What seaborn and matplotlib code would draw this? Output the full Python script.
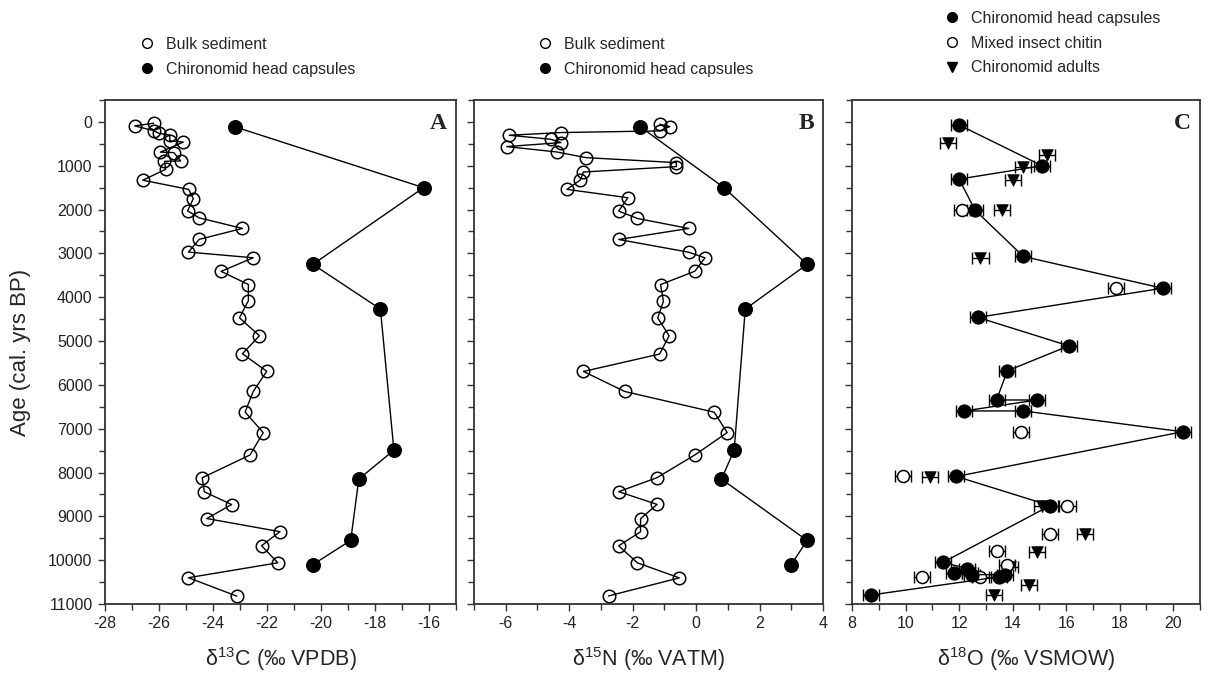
import numpy as np
import pandas as pd
import matplotlib
matplotlib.use("Agg")
import matplotlib.pyplot as plt
import seaborn as sns
from matplotlib.lines import Line2D
from matplotlib.ticker import MultipleLocator

# ---------------- data ----------------
# Panel A: d13C
ageA_bulk = [30, 90, 200, 260, 300, 430, 460, 690, 700, 890, 900, 1080, 1330, 1540, 1750,
             2030, 2190, 2430, 2680, 2970, 3100, 3410, 3710, 4080, 4470, 4880, 5290, 5690,
             6150, 6620, 7090, 7600, 8120, 8440, 8730, 9050, 9350, 9670, 10060, 10400, 10820]
d13C_bulk = [-26.2, -26.9, -26.2, -26.0, -25.6, -25.6, -25.1, -25.95, -25.45, -25.2, -25.8,
             -25.75, -26.6, -24.9, -24.73, -24.94, -24.51, -22.91, -24.51, -24.91, -22.51,
             -23.70, -22.69, -22.69, -23.02, -22.28, -22.91, -22.01, -22.51, -22.81, -22.14,
             -22.63, -24.40, -24.32, -23.31, -24.23, -21.52, -22.20, -21.60, -24.91, -23.12]
age_hc = [110, 1500, 3250, 4270, 7490, 8150, 9550, 10100]
d13C_hc = [-23.2, -16.2, -20.3, -17.8, -17.3, -18.6, -18.9, -20.3]

# Panel B: d15N
ageB_bulk = [53, 106, 205, 243, 304, 396, 472, 563, 686, 815, 929, 1020, 1143, 1326, 1539,
             1730, 2035, 2203, 2431, 2683, 2973, 3102, 3407, 3712, 4093, 4474, 4878, 5297,
             5694, 6151, 6623, 7088, 7599, 8117, 8437, 8727, 9055, 9352, 9672, 10061, 10404, 10816]
d15N_bulk = [-1.15, -0.83, -1.15, -4.26, -5.89, -4.58, -4.26, -5.97, -4.39, -3.47, -0.62,
             -0.62, -3.55, -3.65, -4.07, -2.15, -2.44, -1.85, -0.23, -2.44, -0.23, 0.28,
             -0.04, -1.12, -1.03, -1.21, -0.85, -1.15, -3.55, -2.25, 0.57, 0.98, -0.04,
             -1.23, -2.44, -1.23, -1.75, -1.75, -2.44, -1.85, -0.53, -2.76]
d15N_hc = [-1.76, 0.88, 3.5, 1.55, 1.2, 0.8, 3.5, 3.0]

# Panel C: d18O
ageC_hc = [70, 1000, 1305, 2015, 3070, 3795, 4460, 5110, 5680, 6345, 6345, 6595, 6595,
           7070, 8090, 8755, 10050, 10190, 10300, 10330, 10330, 10380, 10795]
d18O_hc = [12.0, 15.1, 12.0, 12.6, 14.4, 19.6, 12.7, 16.1, 13.8, 13.4, 14.9, 12.2, 14.4,
           20.35, 11.9, 15.4, 11.4, 12.3, 11.8, 12.5, 13.7, 13.5, 8.7]
ageC_mix = [2015, 3795, 7070, 8090, 8755, 9405, 9800, 10100, 10390, 10390]
d18O_mix = [12.1, 17.85, 14.3, 9.9, 16.05, 15.4, 13.4, 13.8, 10.6, 12.8]
ageC_ad = [490, 755, 1025, 1330, 2015, 3100, 8105, 8755, 9405, 9810, 10160, 10300, 10570, 10800]
d18O_ad = [11.6, 15.3, 14.4, 14.0, 13.6, 12.8, 10.9, 15.1, 16.7, 14.9, 13.9, 12.4, 14.6, 13.3]
d18O_err = 0.3

# ---------------- style ----------------
sns.set_theme(style="ticks")
FONT = ['Liberation Sans', 'DejaVu Sans']
plt.rcParams['font.family'] = FONT
plt.rcParams['axes.unicode_minus'] = False
plt.rcParams['mathtext.fontset'] = 'custom'
plt.rcParams['mathtext.rm'] = 'Liberation Sans'
plt.rcParams['mathtext.it'] = 'Liberation Sans'

W, H = 1206, 676
fig = plt.figure(figsize=(W / 100, H / 100), dpi=100)
fig.patch.set_facecolor('white')


def add_axes(l, r, t=100, b=604):
    return fig.add_axes([l / W, 1 - b / H, (r - l) / W, (b - t) / H])


axA = add_axes(105, 456)
axB = add_axes(474, 823)
axC = add_axes(852, 1200)

open_kw = dict(marker='o', markersize=9, markerfacecolor='none', markeredgecolor='black',
               markeredgewidth=1.1, color='black', linewidth=1.0)
fill_kw = dict(marker='o', markersize=10, markerfacecolor='black', markeredgecolor='black',
               color='black', linewidth=1.0)

# Panel A
sns.lineplot(data=pd.DataFrame({'v': d13C_bulk, 'age': ageA_bulk}), x='v', y='age',
             sort=False, estimator=None, legend=False, ax=axA, **open_kw)
sns.lineplot(data=pd.DataFrame({'v': d13C_hc, 'age': age_hc}), x='v', y='age',
             sort=False, estimator=None, legend=False, ax=axA, **fill_kw)

# Panel B
sns.lineplot(data=pd.DataFrame({'v': d15N_bulk, 'age': ageB_bulk}), x='v', y='age',
             sort=False, estimator=None, legend=False, ax=axB, **open_kw)
sns.lineplot(data=pd.DataFrame({'v': d15N_hc, 'age': age_hc}), x='v', y='age',
             sort=False, estimator=None, legend=False, ax=axB, **fill_kw)

# Panel C
err_kw = dict(fmt='none', ecolor='black', elinewidth=1.0, capsize=4, capthick=1.0, zorder=2)
axC.errorbar(d18O_ad, ageC_ad, xerr=d18O_err, **err_kw)
axC.errorbar(d18O_mix, ageC_mix, xerr=d18O_err, **err_kw)
axC.errorbar(d18O_hc, ageC_hc, xerr=d18O_err, **err_kw)
sns.scatterplot(x=d18O_ad, y=ageC_ad, marker='v', s=70, color='black', edgecolor='black',
                linewidth=0.5, ax=axC, zorder=3, legend=False)
sns.scatterplot(x=d18O_mix, y=ageC_mix, marker='o', s=75, color='white', edgecolor='black',
                linewidth=1.1, ax=axC, zorder=3, legend=False)
sns.lineplot(x=d18O_hc, y=ageC_hc, sort=False, estimator=None, legend=False, ax=axC,
             marker='o', markersize=9.5, markerfacecolor='black', markeredgecolor='black',
             color='black', linewidth=1.0, zorder=4)

# ---------------- axes formatting ----------------
xlims = {axA: (-28, -15), axB: (-7, 4), axC: (8, 21)}
for ax in (axA, axB, axC):
    ax.set_ylim(11000, -500)
    ax.set_xlim(*xlims[ax])
    ax.yaxis.set_major_locator(MultipleLocator(1000))
    ax.yaxis.set_minor_locator(MultipleLocator(500))
    ax.xaxis.set_major_locator(MultipleLocator(2))
    ax.xaxis.set_minor_locator(MultipleLocator(1))
    ax.tick_params(which='both', direction='out', length=5, width=1.0, color='#333333',
                   labelsize=11.5, labelcolor='#222222', pad=4)
    ax.tick_params(which='minor', length=4)
    for sp in ax.spines.values():
        sp.set_visible(True)
        sp.set_linewidth(1.3)
        sp.set_color('#333333')
    ax.set_ylabel('')
    ax.set_facecolor('white')

axB.set_yticklabels([])
axC.set_yticklabels([])
axA.set_xticks([-28, -26, -24, -22, -20, -18, -16])
axB.set_xticks([-6, -4, -2, 0, 2, 4])
axC.set_xticks([8, 10, 12, 14, 16, 18, 20])

axA.set_ylabel('Age (cal. yrs BP)', fontsize=16)
axA.yaxis.set_label_coords(-74 / 351, 0.5)
axA.set_xlabel(r'δ$^{13}$C (‰ VPDB)', fontsize=15.5, labelpad=10)
axB.set_xlabel(r'δ$^{15}$N (‰ VATM)', fontsize=15.5, labelpad=10)
axC.set_xlabel(r'δ$^{18}$O (‰ VSMOW)', fontsize=15.5, labelpad=10)

for ax, letter in ((axA, 'A'), (axB, 'B'), (axC, 'C')):
    ax.text(0.975, 0.975, letter, transform=ax.transAxes, ha='right', va='top',
            fontsize=17, fontweight='bold', family=['Liberation Serif', 'DejaVu Serif'])

# ---------------- legends ----------------
h_open = Line2D([], [], ls='none', marker='o', markersize=7, mfc='none', mec='black', mew=1)
h_fill = Line2D([], [], ls='none', marker='o', markersize=7, mfc='black', mec='black')
h_tri = Line2D([], [], ls='none', marker='v', markersize=7, mfc='black', mec='black')

leg_kw = dict(loc='upper left', frameon=False, fontsize=11.5, handlelength=1.0,
              handletextpad=0.7, labelspacing=0.6, borderpad=0, borderaxespad=0)
fig.legend([h_open, h_fill], ['Bulk sediment', 'Chironomid head capsules'],
           bbox_to_anchor=(139 / W, 1 - 37 / H), **leg_kw)
fig.legend([h_open, h_fill], ['Bulk sediment', 'Chironomid head capsules'],
           bbox_to_anchor=(537 / W, 1 - 37 / H), **leg_kw)
fig.legend([h_fill, h_open, h_tri],
           ['Chironomid head capsules', 'Mixed insect chitin', 'Chironomid adults'],
           bbox_to_anchor=(944 / W, 1 - 11 / H), **leg_kw)

fig.savefig('out.png', dpi=100, facecolor='white')
